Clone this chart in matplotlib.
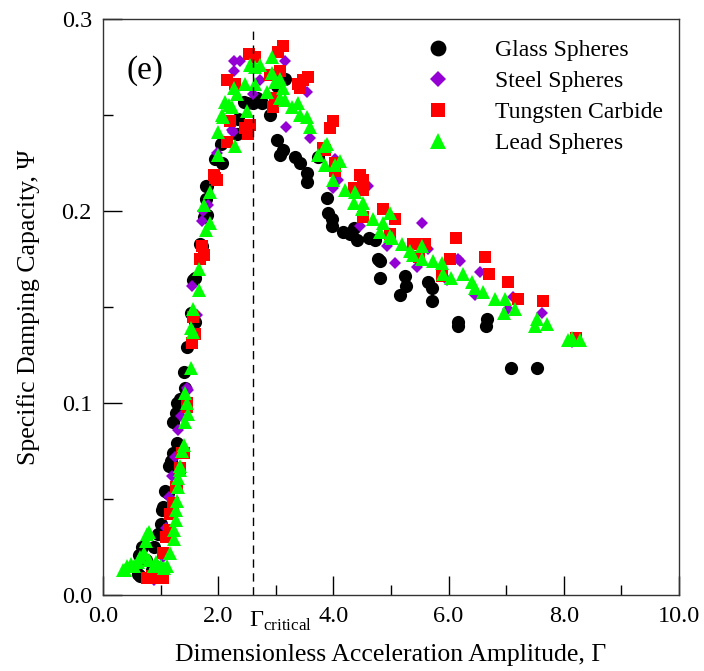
import matplotlib
matplotlib.use("Agg")
import matplotlib.pyplot as plt
from matplotlib.transforms import blended_transform_factory

plt.rcParams["font.family"] = ["Liberation Serif", "DejaVu Serif"]
plt.rcParams["mathtext.fontset"] = "custom"
plt.rcParams["mathtext.rm"] = "Liberation Serif"

# ---- data (Gamma, Psi) ----
glass_x = [0.60, 0.65, 0.62, 0.68, 0.75, 0.85, 0.88, 0.96, 1.00, 1.03, 1.05, 1.08,
           1.12, 1.14, 1.18, 1.22, 1.29, 1.22, 1.27, 1.29, 1.34, 1.43, 1.40, 1.46,
           1.52, 1.60, 1.57, 1.60, 1.69, 1.72, 1.75, 1.81, 1.78, 1.78, 1.81, 1.95,
           2.04, 2.07, 2.33, 2.35, 2.44, 2.50, 2.61, 2.67, 2.76, 3.02, 3.16,
           2.90, 3.02, 3.08, 3.13, 3.34, 3.42, 3.54, 3.55, 3.74, 3.89, 3.91, 3.97,
           3.97, 4.17, 4.29, 4.35, 4.41, 4.61, 4.72, 4.78, 4.81, 4.81, 5.24, 5.26,
           5.16, 5.64, 5.71, 5.71, 6.16, 6.16, 6.66, 6.65, 7.08, 7.53]
glass_y = [0.011, 0.010, 0.021, 0.025, 0.018, 0.013, 0.025, 0.032, 0.037, 0.044, 0.046, 0.054,
           0.053, 0.067, 0.070, 0.074, 0.079, 0.090, 0.095, 0.100, 0.102, 0.108, 0.116, 0.129,
           0.147, 0.142, 0.164, 0.165, 0.183, 0.182, 0.197, 0.198, 0.206, 0.213, 0.213, 0.227,
           0.235, 0.225, 0.240, 0.248, 0.257, 0.256, 0.256, 0.259, 0.256, 0.265, 0.269,
           0.250, 0.237, 0.229, 0.232, 0.228, 0.225, 0.220, 0.215, 0.228, 0.207, 0.199, 0.196,
           0.192, 0.189, 0.188, 0.191, 0.185, 0.186, 0.185, 0.175, 0.174, 0.165, 0.166, 0.161,
           0.156, 0.163, 0.160, 0.153, 0.142, 0.140, 0.144, 0.140, 0.118, 0.118]

steel_x = [0.88, 0.95, 1.05, 1.10, 1.14, 1.20, 1.25, 1.31, 1.35, 1.46, 1.48, 1.55,
           1.64, 1.72, 1.74, 1.83, 1.98, 2.24, 2.26, 2.27, 2.27, 2.27, 2.38, 2.61,
           2.73, 3.16, 3.18, 3.54, 3.60, 4.03, 4.08, 4.00, 4.60, 4.46, 4.93, 5.07,
           5.45, 5.54, 5.64, 5.97, 6.16, 6.19, 6.54, 6.46, 7.12, 7.03, 7.62, 8.14]
steel_y = [0.008, 0.015, 0.020, 0.035, 0.051, 0.062, 0.072, 0.086, 0.093, 0.108, 0.107, 0.161,
           0.146, 0.195, 0.200, 0.203, 0.230, 0.242, 0.241, 0.266, 0.273, 0.278, 0.278, 0.261,
           0.268, 0.278, 0.244, 0.262, 0.238, 0.227, 0.216, 0.212, 0.213, 0.192, 0.182, 0.173,
           0.171, 0.194, 0.180, 0.164, 0.175, 0.174, 0.168, 0.156, 0.155, 0.149, 0.147, 0.132]

tungsten_x = [0.77, 0.85, 0.94, 1.05, 1.05, 1.10, 1.14, 1.17, 1.22, 1.26, 1.29, 1.33,
              1.38, 1.40, 1.46, 1.45, 1.54, 1.60, 1.57, 1.68, 1.75, 1.72, 1.92, 1.95,
              1.98, 2.16, 2.21, 2.16, 2.30, 2.47, 2.52, 2.56, 2.54, 2.64, 2.90, 2.96,
              2.99, 3.04, 3.08, 3.13, 3.39, 3.42, 3.48, 3.56, 3.82, 3.86, 3.94, 3.99,
              4.03, 4.03, 4.35, 4.46, 4.52, 4.52, 4.52, 4.86, 4.98, 5.07, 5.38, 5.49,
              5.59, 5.88, 6.02, 6.13, 6.63, 6.70, 7.03, 7.20, 7.64, 8.22]
tungsten_y = [0.009, 0.010, 0.009, 0.009, 0.022, 0.030, 0.034, 0.042, 0.048, 0.056, 0.056, 0.066,
              0.074, 0.074, 0.098, 0.100, 0.131, 0.136, 0.145, 0.175, 0.177, 0.182, 0.219, 0.217,
              0.216, 0.236, 0.247, 0.268, 0.266, 0.243, 0.240, 0.245, 0.282, 0.280, 0.271, 0.254,
              0.259, 0.283, 0.273, 0.286, 0.266, 0.264, 0.268, 0.270, 0.233, 0.232, 0.243, 0.247,
              0.225, 0.221, 0.212, 0.219, 0.216, 0.211, 0.197, 0.201, 0.188, 0.196, 0.183, 0.176,
              0.183, 0.166, 0.175, 0.186, 0.176, 0.167, 0.163, 0.154, 0.153, 0.134]

lead_x = [0.35, 0.39, 0.42, 0.48, 0.53, 0.60, 0.65, 0.71, 0.75, 0.79, 0.77, 0.80,
          0.88, 0.92, 1.00, 1.06, 1.11, 1.17, 1.23, 1.23, 1.26, 1.26, 1.29, 1.31,
          1.31, 1.34, 1.34, 1.38, 1.40, 1.43, 1.48, 1.46, 1.43, 1.52, 1.52, 1.57,
          1.57, 1.66, 1.66, 1.78, 1.86, 1.75, 1.86, 2.00, 2.00, 2.30, 2.09, 2.07,
          2.12, 2.18, 2.24, 2.33, 2.27, 2.47, 2.50, 2.56, 2.64, 2.73, 2.64, 2.85,
          2.94, 2.94, 2.99, 3.08, 3.13, 3.16, 3.08, 3.28, 3.39, 3.42, 3.54, 3.60,
          3.74, 3.86, 3.86, 3.89, 4.03, 4.12, 3.99, 4.20, 4.38, 4.35, 4.52, 4.50,
          4.69, 4.86, 4.98, 4.81, 4.98, 5.02, 5.19, 5.33, 5.38, 5.54, 5.54, 5.73,
          5.88, 5.91, 6.05, 6.25, 6.40, 6.46, 6.60, 6.80, 6.98, 7.15, 6.96, 7.53,
          7.50, 7.70, 8.07, 8.14, 8.28]
lead_y = [0.013, 0.013, 0.015, 0.016, 0.015, 0.017, 0.020, 0.022, 0.028, 0.033, 0.032, 0.018,
          0.015, 0.017, 0.015, 0.014, 0.015, 0.022, 0.029, 0.034, 0.039, 0.044, 0.049, 0.056,
          0.061, 0.065, 0.067, 0.075, 0.078, 0.090, 0.094, 0.100, 0.105, 0.118, 0.139, 0.137,
          0.149, 0.159, 0.170, 0.190, 0.194, 0.203, 0.210, 0.229, 0.241, 0.234, 0.249, 0.250,
          0.257, 0.255, 0.254, 0.261, 0.264, 0.266, 0.252, 0.276, 0.275, 0.276, 0.266, 0.262,
          0.280, 0.272, 0.267, 0.269, 0.264, 0.258, 0.259, 0.254, 0.256, 0.250, 0.249, 0.244,
          0.229, 0.224, 0.234, 0.235, 0.224, 0.226, 0.216, 0.211, 0.210, 0.204, 0.204, 0.201,
          0.196, 0.194, 0.199, 0.189, 0.187, 0.186, 0.183, 0.179, 0.177, 0.182, 0.175, 0.174,
          0.173, 0.167, 0.165, 0.167, 0.163, 0.160, 0.158, 0.154, 0.154, 0.149, 0.147, 0.144,
          0.140, 0.141, 0.133, 0.134, 0.133]

gamma_critical = 2.6

fig = plt.figure(figsize=(7.04, 6.71), dpi=100)
ax = fig.add_axes([0.1463, 0.1133, 0.8182, 0.8584])

ax.plot(glass_x, glass_y, "o", color="black", ms=9.5, mew=0, label="Glass Spheres")
ax.plot(steel_x, steel_y, "D", color="#9400D3", ms=6.5, mew=0, label="Steel Spheres")
ax.plot(tungsten_x, tungsten_y, "s", color="#FF0000", ms=8, mew=0, label="Tungsten Carbide")
ax.plot(lead_x, lead_y, "^", color="#00FF00", ms=9.5, mew=0, label="Lead Spheres")

ax.axvline(gamma_critical, ymax=0.985, color="black", lw=1.0, dashes=(6, 4))

ax.set_xlim(0, 10)
ax.set_ylim(0, 0.3)
ax.set_xticks([0, 2, 4, 6, 8, 10])
ax.set_xticklabels(["0.0", "2.0", "4.0", "6.0", "8.0", "10.0"])
ax.set_xticks([1, 3, 5, 7, 9], minor=True)
ax.set_yticks([0, 0.1, 0.2, 0.3])
ax.set_yticklabels(["0.0", "0.1", "0.2", "0.3"])
ax.set_yticks([0.05, 0.15, 0.25], minor=True)
ax.tick_params(which="both", direction="in", top=False, right=False,
               width=1, labelsize=17.5)
ax.tick_params(which="major", length=14, pad=8)
ax.tick_params(which="minor", length=7)
for s in ax.spines.values():
    s.set_linewidth(1.0)
    s.set_color("#333333")

# Gamma_critical label sits in the tick-label row, next to the dashed line
tr = blended_transform_factory(ax.transData, ax.transAxes)
ax.text(gamma_critical - 0.07, -0.0556, "Γ$_{\\mathrm{critical}}$", transform=tr,
        ha="left", va="baseline", fontsize=17.5)

ax.set_xlabel("Dimensionless Acceleration Amplitude, Γ", fontsize=18.5)
ax.set_ylabel("Specific Damping Capacity, Ψ", fontsize=18.5)
ax.xaxis.set_label_coords(0.5, -0.085)
ax.yaxis.set_label_coords(-0.109, 0.5)

ax.text(0.04, 0.91, "(e)", transform=ax.transAxes, fontsize=24,
        ha="left", va="center")

ax.legend(loc="upper left", bbox_to_anchor=(0.545, 0.981), frameon=False,
          fontsize=17, markerscale=1.2, handlelength=1.0,
          handletextpad=1.92, labelspacing=0.40, borderaxespad=0)

fig.savefig("out.png", dpi=100)
